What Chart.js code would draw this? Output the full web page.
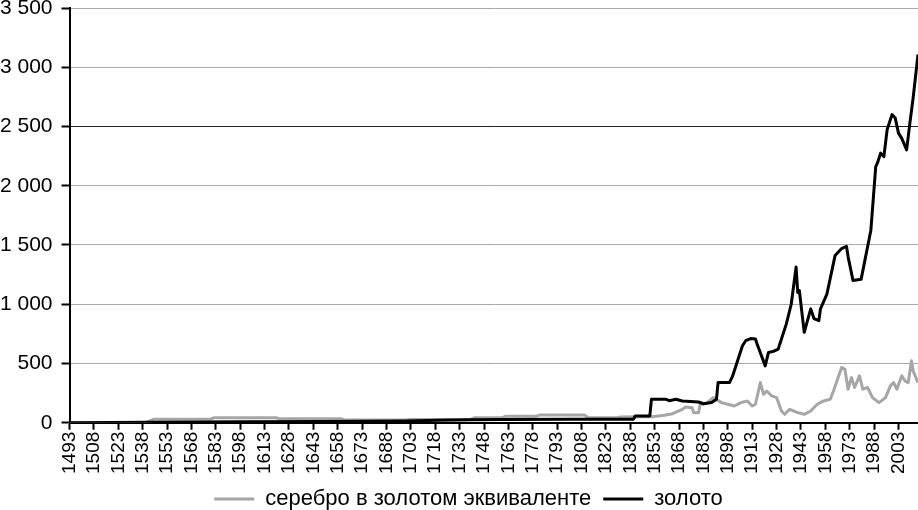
<!DOCTYPE html>
<html>
<head>
<meta charset="utf-8">
<script src="https://cdn.jsdelivr.net/npm/chart.js@4/dist/chart.umd.min.js"></script>
<style>
  html, body { margin: 0; padding: 0; background: #fff; }
  #wrap { width: 918px; height: 510px; }
</style>
</head>
<body>
<div id="wrap"><canvas id="chart"></canvas></div>
<script>
// Year ticks shown under the axis
const tickYears = [1493, 1508, 1523, 1538, 1553, 1568, 1583, 1598, 1613, 1628, 1643, 1658,
  1673, 1688, 1703, 1718, 1733, 1748, 1763, 1778, 1793, 1808, 1823, 1838, 1853, 1868,
  1883, 1898, 1913, 1928, 1943, 1958, 1973, 1988, 2003];

// silver, in gold equivalent
const silverYears = [1493, 1540, 1545, 1580, 1582, 1620, 1622, 1660, 1662, 1700, 1702, 1740,
  1742, 1759, 1761, 1780, 1782, 1810, 1812, 1830, 1832, 1845, 1851, 1855, 1859, 1864,
  1870, 1872, 1876, 1877, 1880, 1881, 1885, 1889, 1894, 1898, 1902, 1906, 1910, 1913,
  1915, 1918, 1920, 1922, 1925, 1928, 1931, 1933, 1936, 1941, 1945, 1949, 1953, 1957,
  1961, 1963, 1968, 1970, 1972, 1974, 1976, 1979, 1981, 1984, 1987, 1991, 1995, 1998,
  2000, 2002, 2005, 2007, 2009, 2011, 2012, 2015];
const silverValues = [0, 0, 30, 32, 42, 42, 34, 34, 23, 23, 28, 30,
  42, 42, 54, 54, 65, 65, 42, 42, 48, 50, 50, 57, 63, 76,
  113, 133, 127, 85, 85, 156, 165, 212, 170, 156, 141, 170, 184, 141,
  156, 339, 240, 268, 226, 212, 99, 71, 113, 85, 71, 99, 156, 184,
  198, 268, 466, 452, 283, 381, 297, 396, 283, 297, 212, 170, 212, 311,
  339, 283, 396, 353, 339, 523, 438, 339];

// gold
const goldYears = [1493, 1520, 1540, 1600, 1650, 1700, 1720, 1740, 1760, 1800, 1838, 1840,
  1841, 1850, 1851, 1860, 1862, 1866, 1870, 1880, 1883, 1888, 1891, 1892, 1899, 1901,
  1907, 1909, 1912, 1915, 1916, 1921, 1923, 1926, 1929, 1934, 1937, 1940, 1941, 1942,
  1945, 1949, 1951, 1954, 1955, 1959, 1964, 1966, 1968, 1970, 1971, 1972, 1975, 1980,
  1986, 1989, 1990, 1992, 1994, 1996, 1999, 2001, 2003, 2005, 2008, 2010, 2012, 2015];
const goldValues = [0, 2, 5, 8, 10, 15, 20, 25, 28, 29, 30, 30,
  57, 57, 198, 198, 186, 198, 184, 175, 160, 170, 198, 339, 339, 396,
  650, 692, 710, 707, 664, 480, 593, 602, 622, 834, 1000, 1314, 1100, 1116,
  763, 961, 879, 862, 961, 1088, 1412, 1441, 1470, 1483, 1489, 1400, 1201, 1210,
  1625, 2161, 2190, 2275, 2246, 2472, 2600, 2571, 2444, 2400, 2303, 2529, 2741, 3108];

const seriesNames = ["серебро в золотом эквиваленте", "золото"];

const toPoints = (xs, ys) => xs.map((x, i) => ({ x: x, y: ys[i] }));

const fmtThousands = (v) => {
  if (v < 1000) return String(v);
  return Math.floor(v / 1000) + " " + String(v % 1000).padStart(3, "0");
};

// nudge the legend a bit to the right, like in the original
const legendShift = {
  id: "legendShift",
  afterLayout(chart) {
    if (chart.legend) {
      chart.legend.left += 14;
      chart.legend.right += 14;
    }
  }
};

Chart.defaults.font.family = "'Liberation Sans', Arial, sans-serif";
Chart.defaults.color = "#000";

new Chart(document.getElementById("chart"), {
  type: "line",
  data: {
    datasets: [
      {
        label: seriesNames[0],
        data: toPoints(silverYears, silverValues),
        borderColor: "#a6a6a6",
        backgroundColor: "#a6a6a6",
        borderWidth: 3,
        order: 2
      },
      {
        label: seriesNames[1],
        data: toPoints(goldYears, goldValues),
        borderColor: "#000",
        backgroundColor: "#000",
        borderWidth: 3,
        order: 1
      }
    ]
  },
  plugins: [legendShift],
  options: {
    responsive: true,
    maintainAspectRatio: false,
    animation: false,
    elements: {
      point: { radius: 0 },
      line: { tension: 0, borderJoinStyle: "round" }
    },
    layout: { padding: { top: 0, right: 0, left: -9, bottom: -10 } },
    scales: {
      x: {
        type: "linear",
        min: 1493,
        max: 2015,
        afterBuildTicks: (scale) => {
          scale.ticks = tickYears.map((v) => ({ value: v }));
        },
        afterFit: (scale) => {
          scale.paddingRight = 0;
        },
        ticks: {
          autoSkip: false,
          minRotation: 90,
          maxRotation: 90,
          padding: 2,
          font: { size: 19 },
          callback: (v) => String(v)
        },
        grid: {
          drawOnChartArea: false,
          drawTicks: true,
          tickLength: 7,
          tickColor: "#000",
          tickWidth: 2
        },
        border: { display: true, color: "#000", width: 2 }
      },
      y: {
        min: 0,
        max: 3500,
        afterFit: (scale) => {
          scale.paddingTop = 8;
        },
        ticks: {
          stepSize: 500,
          padding: 9,
          font: { size: 21 },
          callback: (v) => fmtThousands(v)
        },
        grid: {
          color: (ctx) => (ctx.tick && ctx.tick.value === 2500 ? "#222" : "#a8a8a8"),
          lineWidth: 1,
          tickLength: 8,
          tickColor: "#000",
          tickWidth: 2
        },
        border: { display: true, color: "#000", width: 2 }
      }
    },
    plugins: {
      tooltip: { enabled: false },
      legend: {
        display: true,
        position: "bottom",
        labels: {
          boxWidth: 40,
          boxHeight: 3,
          padding: 12,
          font: { size: 22 },
          generateLabels: (chart) =>
            chart.data.datasets.map((ds, i) => ({
              text: ds.label,
              fillStyle: ds.borderColor,
              strokeStyle: ds.borderColor,
              lineWidth: 0,
              hidden: false,
              datasetIndex: i
            }))
        }
      }
    }
  }
});
</script>
</body>
</html>
